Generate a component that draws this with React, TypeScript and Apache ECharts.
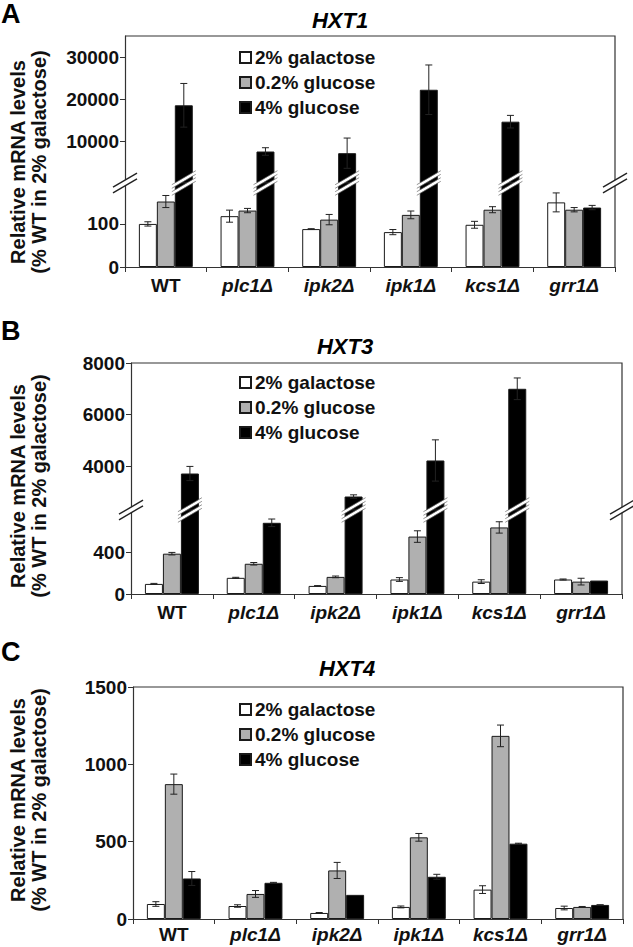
import React, { useEffect, useRef } from "react";
import * as echarts from "echarts";

// ---------- data ----------
const categories = ["WT", "plc1Δ", "ipk2Δ", "ipk1Δ", "kcs1Δ", "grr1Δ"];
const seriesNames = ["2% galactose", "0.2% glucose", "4% glucose"];

// HXT1 (panel A)
const hxt1Gal = [100, 118, 88, 81, 98, 150];
const hxt1GalErr = [5, 14, 1, 6, 8, 22];
const hxt1Glc02 = [152, 131, 110, 121, 133, 133];
const hxt1Glc02Err = [14, 5, 12, 9, 7, 5];
const hxt1Glc4 = [18500, 7500, 7100, 22200, 14600, 138];
const hxt1Glc4Err = [5200, 900, 3600, 5900, 1500, 5];

// HXT3 (panel B)
const hxt3Gal = [96, 154, 77, 138, 118, 138];
const hxt3GalErr = [5, 5, 3, 18, 18, 5];
const hxt3Glc02 = [384, 288, 163, 547, 634, 118];
const hxt3Glc02Err = [12, 12, 8, 55, 54, 32];
const hxt3Glc4 = [3715, 678, 2823, 4220, 7000, 128];
const hxt3Glc4Err = [275, 36, 65, 800, 420, 0];

// HXT4 (panel C)
const hxt4Gal = [97, 84, 39, 78, 190, 71];
const hxt4GalErr = [15, 8, 3, 6, 25, 12];
const hxt4Glc02 = [872, 162, 314, 528, 1184, 78];
const hxt4Glc02Err = [65, 22, 52, 25, 70, 3];
const hxt4Glc4 = [262, 234, 156, 273, 487, 91];
const hxt4Glc4Err = [45, 3, 0, 16, 3, 1];

// tick labels
const hxt1UpperTicks = [10000, 20000, 30000];
const hxt1LowerTicks = [0, 100];
const hxt3UpperTicks = [4000, 6000, 8000];
const hxt3LowerTicks = [0, 400];
const hxt4Ticks = [0, 500, 1000, 1500];

// ---------- styling / layout ----------
const FONT = "'Liberation Sans', Arial, Helvetica, sans-serif";
const FILLS = ["#ffffff", "#b0b0b0", "#000000"];
const AXIS = "#333333";
const GAP = 0.34;

const panels: any[] = [
  {
    letter: "A", letterY: 14, title: "HXT1", titleX: 340, titleY: 20,
    left: 125, right: 615, top: 36, brk: 183, bottom: 267, nameY: 162, legendTop: 43, xMargin: 9,
    upper: { min: 0, max: 35000, ticks: hxt1UpperTicks },
    lower: { max: 195, ticks: hxt1LowerTicks },
    values: [hxt1Gal, hxt1Glc02, hxt1Glc4],
    errors: [hxt1GalErr, hxt1Glc02Err, hxt1Glc4Err],
  },
  {
    letter: "B", letterY: 331, title: "HXT3", titleX: 345, titleY: 346,
    left: 131, right: 622, top: 363, brk: 510, bottom: 594, nameY: 486, legendTop: 368, xMargin: 9,
    upper: { min: 2300, max: 8000, ticks: hxt3UpperTicks },
    lower: { max: 800, ticks: hxt3LowerTicks },
    values: [hxt3Gal, hxt3Glc02, hxt3Glc4],
    errors: [hxt3GalErr, hxt3Glc02Err, hxt3Glc4Err],
  },
  {
    letter: "C", letterY: 652, title: "HXT4", titleX: 347, titleY: 668,
    left: 133, right: 623, top: 687, brk: null, bottom: 919, nameY: 800, legendTop: 695, xMargin: 6,
    upper: null,
    lower: { max: 1500, ticks: hxt4Ticks },
    values: [hxt4Gal, hxt4Glc02, hxt4Glc4],
    errors: [hxt4GalErr, hxt4Glc02Err, hxt4Glc4Err],
  },
];

function errRender(params: any, api: any) {
  const i = api.value(0);
  const v = api.value(1);
  const e = api.value(2);
  const k = api.value(3);
  const band = api.size([1, 0])[0];
  const bw = (band * (1 - GAP)) / 3;
  const x = api.coord([i, v])[0] + (k - 1) * bw;
  const cs = params.coordSys;
  const yTop = Math.max(api.coord([i, v + e])[1], cs.y);
  const yBot = Math.min(api.coord([i, v - e])[1], cs.y + cs.height);
  const cap = 3.5;
  const st = { stroke: "#222", lineWidth: 1 };
  return {
    type: "group",
    children: [
      { type: "line", shape: { x1: x, y1: yTop, x2: x, y2: yBot }, style: st },
      { type: "line", shape: { x1: x - cap, y1: yTop, x2: x + cap, y2: yTop }, style: st },
      { type: "line", shape: { x1: x - cap, y1: yBot, x2: x + cap, y2: yBot }, style: st },
    ],
  };
}

function barBreakRender(params: any, api: any) {
  const i = api.value(0);
  const k = api.value(2);
  const band = api.size([1, 0])[0];
  const bw = (band * (1 - GAP)) / 3;
  const x = api.coord([i, 0])[0] + (k - 1) * bw;
  const cs = params.coordSys;
  const y = cs.y + cs.height;
  const hw = bw / 2 + 3;
  const dy = 7;
  const mk = (d: number) => ({
    type: "line",
    shape: { x1: x - hw, y1: y + dy + d, x2: x + hw, y2: y - dy + d },
    style: { stroke: "#ffffff", lineWidth: 2.8 },
  });
  const out = (d: number) => ({
    type: "line",
    shape: { x1: x - hw, y1: y + dy + d, x2: x + hw, y2: y - dy + d },
    style: { stroke: "#666", lineWidth: 0.7 },
  });
  return {
    type: "group",
    children: [mk(-3.5), mk(3.5), out(-5.3), out(-1.7), out(1.7), out(5.3)],
  };
}

function axisBreak(x: number, y: number) {
  const hw = 12;
  const dy = 7;
  const s = 2.8;
  return {
    type: "group",
    z: 100,
    children: [
      {
        type: "polygon",
        shape: {
          points: [
            [x - hw, y + dy - s],
            [x + hw, y - dy - s],
            [x + hw, y - dy + s],
            [x - hw, y + dy + s],
          ],
        },
        style: { fill: "#ffffff" },
        z: 100,
      },
      {
        type: "line",
        shape: { x1: x - hw, y1: y + dy - s, x2: x + hw, y2: y - dy - s },
        style: { stroke: "#222", lineWidth: 1.4 },
        z: 101,
      },
      {
        type: "line",
        shape: { x1: x - hw, y1: y + dy + s, x2: x + hw, y2: y - dy + s },
        style: { stroke: "#222", lineWidth: 1.4 },
        z: 101,
      },
    ],
  };
}

function buildOption() {
  const grids: any[] = [];
  const xAxes: any[] = [];
  const yAxes: any[] = [];
  const series: any[] = [];
  const legends: any[] = [];
  const graphics: any[] = [];

  panels.forEach((p) => {
    const lowerMax = p.upper ? p.lower.max : Infinity;
    const segs = p.upper
      ? [
          { kind: "upper", top: p.top, bottom: p.brk, min: p.upper.min, max: p.upper.max, ticks: p.upper.ticks },
          { kind: "lower", top: p.brk, bottom: p.bottom, min: 0, max: p.lower.max, ticks: p.lower.ticks },
        ]
      : [{ kind: "single", top: p.top, bottom: p.bottom, min: 0, max: p.lower.max, ticks: p.lower.ticks }];

    segs.forEach((s) => {
      const gi = grids.length;
      grids.push({
        left: p.left,
        top: s.top,
        width: p.right - p.left,
        height: s.bottom - s.top,
        containLabel: false,
        outerBoundsMode: "none",
        show: false,
      });
      const showX = s.kind !== "upper";
      xAxes.push({
        type: "category",
        gridIndex: gi,
        data: categories,
        show: showX,
        position: "bottom",
        axisLine: { show: true, onZero: false, lineStyle: { color: AXIS, width: 1.2 } },
        axisTick: { show: true, alignWithLabel: false, inside: false, length: 5, lineStyle: { color: AXIS } },
        axisLabel: {
          show: true,
          margin: p.xMargin,
          interval: 0,
          formatter: (v: string) => (v === "WT" ? `{n|${v}}` : `{i|${v}}`),
          rich: {
            n: { fontSize: 19, fontWeight: "bold", color: "#111", fontFamily: FONT },
            i: { fontSize: 19, fontWeight: "bold", fontStyle: "italic", color: "#111", fontFamily: FONT },
          },
        },
        splitLine: { show: false },
      });
      yAxes.push({
        type: "value",
        gridIndex: gi,
        min: s.min,
        max: s.max,
        axisLine: { show: true, lineStyle: { color: AXIS, width: 1.2 } },
        axisTick: { show: true, inside: false, length: 5, customValues: s.ticks, lineStyle: { color: AXIS } },
        axisLabel: {
          customValues: s.ticks,
          formatter: (v: number) => String(v),
          fontSize: 19,
          fontWeight: "bold",
          color: "#111",
          fontFamily: FONT,
          margin: 6,
        },
        splitLine: { show: false },
      });

      seriesNames.forEach((name, k) => {
        const vals = p.values[k].map((v: number) =>
          s.kind === "upper" ? (v > lowerMax ? v : null) : v
        );
        series.push({
          type: "bar",
          name,
          xAxisIndex: gi,
          yAxisIndex: gi,
          data: vals,
          barGap: "0%",
          barCategoryGap: GAP * 100 + "%",
          clip: true,
          itemStyle: { color: FILLS[k], borderColor: "#1a1a1a", borderWidth: 1 },
          emphasis: { disabled: true },
        });
      });

      const errData: any[] = [];
      p.values.forEach((arr: number[], k: number) =>
        arr.forEach((v, i) => {
          const inSeg = s.kind === "upper" ? v > lowerMax : v <= lowerMax;
          const e = p.errors[k][i];
          if (inSeg && e > 0) errData.push([i, v, e, k]);
        })
      );
      series.push({
        type: "custom",
        name: "error-" + gi,
        xAxisIndex: gi,
        yAxisIndex: gi,
        data: errData,
        encode: { x: 0, y: 1 },
        renderItem: errRender,
        z: 5,
        silent: true,
        clip: false,
      });

      if (s.kind === "upper") {
        const brkData: any[] = [];
        p.values.forEach((arr: number[], k: number) =>
          arr.forEach((v, i) => {
            if (v > lowerMax) brkData.push([i, v, k]);
          })
        );
        series.push({
          type: "custom",
          name: "break-" + gi,
          xAxisIndex: gi,
          yAxisIndex: gi,
          data: brkData,
          encode: { x: 0, y: 1 },
          renderItem: barBreakRender,
          z: 10,
          silent: true,
          clip: false,
        });
      }
    });

    legends.push({
      data: seriesNames,
      orient: "vertical",
      left: 234,
      top: p.legendTop,
      itemWidth: 11,
      itemHeight: 11,
      itemGap: 6,
      icon: "rect",
      selectedMode: false,
      textStyle: { fontSize: 19, fontWeight: "bold", color: "#111", fontFamily: FONT, padding: [0, 0, 0, -1] },
    });

    // frame: top and right borders
    graphics.push({
      type: "polyline",
      shape: { points: [[p.left, p.top], [p.right, p.top], [p.right, p.bottom]] },
      style: { stroke: AXIS, lineWidth: 1.2, fill: null },
      z: 50,
    });
    if (p.brk != null) {
      graphics.push(axisBreak(p.left, p.brk));
      graphics.push(axisBreak(p.right, p.brk));
    }
    // panel letter
    graphics.push({
      type: "text",
      x: 1,
      y: p.letterY,
      style: { text: p.letter, fontSize: 27, fontWeight: "bold", fontFamily: FONT, fill: "#000", align: "left", verticalAlign: "middle" },
    });
    // title
    graphics.push({
      type: "text",
      x: p.titleX,
      y: p.titleY,
      style: { text: p.title, fontSize: 22, fontWeight: "bold", fontStyle: "italic", fontFamily: FONT, fill: "#000", align: "center", verticalAlign: "middle" },
    });
    // y axis name (two lines)
    graphics.push({
      type: "text",
      x: 18,
      y: p.nameY,
      rotation: Math.PI / 2,
      style: { text: "Relative mRNA levels", fontSize: 20, fontWeight: "bold", fontFamily: FONT, fill: "#111", align: "center", verticalAlign: "middle" },
    });
    graphics.push({
      type: "text",
      x: 39,
      y: p.nameY,
      rotation: Math.PI / 2,
      style: { text: "(% WT in 2% galactose)", fontSize: 20, fontWeight: "bold", fontFamily: FONT, fill: "#111", align: "center", verticalAlign: "middle" },
    });
  });

  return {
    animation: false,
    backgroundColor: "#ffffff",
    textStyle: { fontFamily: FONT },
    grid: grids,
    xAxis: xAxes,
    yAxis: yAxes,
    legend: legends,
    series,
    graphic: { elements: graphics },
  };
}

export default function App() {
  const ref = useRef<HTMLDivElement>(null);
  useEffect(() => {
    if (!ref.current) return;
    const chart = echarts.init(ref.current, null, { renderer: "svg" });
    chart.setOption(buildOption() as any);
    return () => chart.dispose();
  }, []);
  return (
    <div
      ref={ref}
      style={{ position: "absolute", left: 0, top: 0, width: 633, height: 947, background: "#fff" }}
    />
  );
}
